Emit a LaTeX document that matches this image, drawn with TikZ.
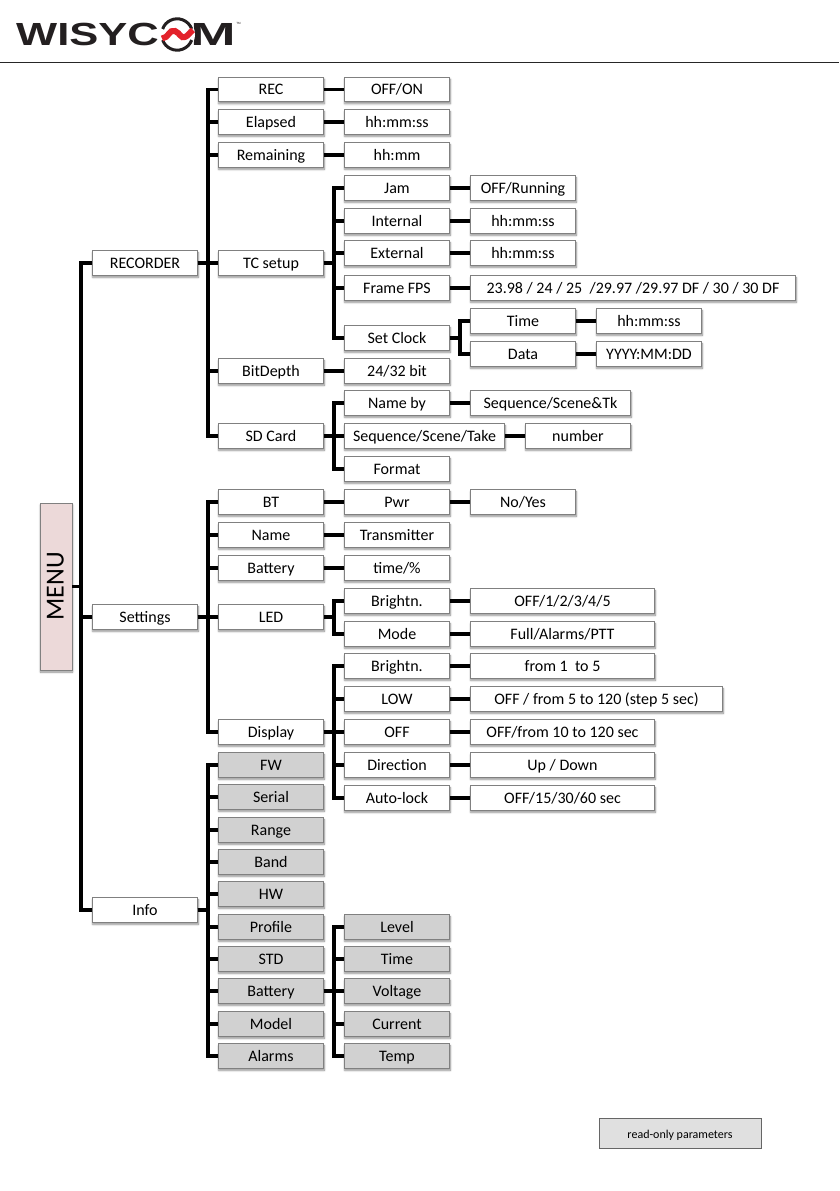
\documentclass[tikz,border=0pt]{standalone}
\usepackage{fontspec}
\setmainfont{Carlito}
\newfontfamily\logofont{Liberation Sans}
\usetikzlibrary{positioning, shadows.blur}
\definecolor{wisyred}{HTML}{E3222B}
\definecolor{logoblack}{HTML}{231F20}

\begin{document}
\begin{tikzpicture}[
  x=1pt, y=-1pt,
  font=\fontsize{16}{18}\selectfont,
  item/.style={draw=black!50, line width=0.8pt, fill=white, minimum width=105.5pt,
    minimum height=24.5pt, inner sep=0pt, outer sep=0pt, align=center, text height=11pt, text depth=1pt,
    blur shadow={shadow xshift=0.5pt, shadow yshift=-2pt, shadow blur radius=2pt,
      shadow blur steps=6, shadow opacity=45}},
  rdonly/.style={item, fill=black!18},
  wire/.style={line width=3.6pt},
]
  \useasboundingbox (0,0) rectangle (839,1191);

  % header
  \node[font=\logofont\bfseries\fontsize{32}{32}\selectfont, xscale=1.36, text=logoblack,
    inner sep=0pt, anchor=center] (logotext) at (87.5,34) {WISYC};
  \node[font=\logofont\bfseries\fontsize{32}{32}\selectfont, xscale=1.7, text=logoblack,
    inner sep=0pt] (logom) at (213,34) {M};
  \node[font=\logofont\fontsize{3}{3}\selectfont, text=logoblack, inner sep=0pt] (logotm) at (238.5,23.5) {TM};
  \fill[white] (177.5,34.5) circle (17.5);
  \draw[logoblack, line width=3pt] (162.6,29) arc[start angle=160, end angle=20, radius=15.5, y radius=-15.5];
  \draw[logoblack, line width=3pt] (162.6,40) arc[start angle=200, end angle=340, radius=15.5, y radius=-15.5];
  \draw[wisyred, line width=6pt] (162,38.5) .. controls (169,38) and (169,29) .. (175,31)
    .. controls (180,33) and (181,39) .. (185,37) .. controls (188,36) and (190,32) .. (193,30);
  \coordinate (ruleL) at (0,62.5);
  \coordinate (ruleR) at (839,62.5);
  \draw[line width=1.5pt, black!85] (ruleL) -- (ruleR);

  % root
  \node[item, fill=red!50!black!15!white, minimum width=167pt, minimum height=32pt, rotate=90,
    text height=15pt, text depth=0pt, font=\fontsize{26}{30}\selectfont] (menu) at (56,586.5) {MENU};

  % first level
  \node[item] (recorder) at (145,263) {RECORDER};
  \node[item] (settings) at (145,617) {Settings};
  \node[item] (info) at (145,910) {Info};

  % recorder
  \node[item] (rec) at (271,89.5) {REC};
  \node[item] (elapsed) at (271,122) {Elapsed};
  \node[item] (remaining) at (271,155) {Remaining};
  \node[item, right=20.5pt of recorder] (tcsetup) {TC setup};
  \node[item] (bitdepth) at (271,371) {BitDepth};
  \node[item] (sdcard) at (271,436) {SD Card};

  \node[item, right=20.5pt of rec] (recval) {OFF/ON};
  \node[item, right=20.5pt of elapsed] (elapsedval) {hh:mm:ss};
  \node[item, right=20.5pt of remaining] (remainingval) {hh:mm};
  \node[item, right=20.5pt of bitdepth] (bitval) {24/32 bit};

  % tc setup
  \node[item] (jam) at (397,188) {Jam};
  \node[item] (internal) at (397,221) {Internal};
  \node[item] (external) at (397,253) {External};
  \node[item] (frame) at (397,288) {Frame FPS};
  \node[item] (clock) at (397,338) {Set Clock};
  \node[item, right=20.5pt of jam] (jamval) {OFF/Running};
  \node[item, right=20.5pt of internal] (internalval) {hh:mm:ss};
  \node[item, right=20.5pt of external] (externalval) {hh:mm:ss};
  \node[item, right=20.5pt of frame, minimum width=325.5pt] (frameval)
    {23.98 / 24 / 25 ~/29.97 /29.97 DF / 30 / 30 DF};
  \node[item] (time) at (523,321) {Time};
  \node[item] (data) at (523,354) {Data};
  \node[item, right=20.5pt of time] (timeval) {hh:mm:ss};
  \node[item, right=20.5pt of data] (dataval) {YYYY:MM:DD};

  % sd card
  \node[item] (nameby) at (397,403) {Name by};
  \node[item, minimum width=160.5pt] (sequence) at (424.5,436) {Sequence/Scene/Take};
  \node[item] (format) at (397,469) {Format};
  \node[item, minimum width=160.5pt] (namebyval) at (550.5,403) {Sequence/Scene\&Tk};
  \node[item, right=20.5pt of sequence] (number) {number};

  % settings
  \node[item] (bt) at (271,502) {BT};
  \node[item] (name) at (271,535) {Name};
  \node[item] (battery) at (271,568) {Battery};
  \node[item, right=20.5pt of settings] (led) {LED};
  \node[item] (display) at (271,732) {Display};
  \node[item, right=20.5pt of bt] (pwr) {Pwr};
  \node[item, right=20.5pt of pwr] (pwrval) {No/Yes};
  \node[item, right=20.5pt of name] (nameval) {Transmitter};
  \node[item, right=20.5pt of battery] (batteryval) {time/\%};

  \node[item] (ledbright) at (397,601) {Brightn.};
  \node[item] (ledmode) at (397,634) {Mode};
  \node[item, minimum width=184.5pt, right=20.5pt of ledbright] (ledbrightval) {OFF/1/2/3/4/5};
  \node[item, minimum width=184.5pt, right=20.5pt of ledmode] (ledmodeval) {Full/Alarms/PTT};

  \node[item] (dispbright) at (397,666) {Brightn.};
  \node[item] (displow) at (397,699) {LOW};
  \node[item, right=20.5pt of display] (dispoff) {OFF};
  \node[item] (dispdir) at (397,765) {Direction};
  \node[item] (displock) at (397,798) {Auto-lock};
  \node[item, minimum width=184.5pt, right=20.5pt of dispbright] (dispbrightval) {from 1 ~to 5};
  \node[item, minimum width=252.5pt, right=20.5pt of displow] (displowval) {OFF / from 5 to 120 (step 5 sec)};
  \node[item, minimum width=184.5pt, right=20.5pt of dispoff] (dispoffval) {OFF/from 10 to 120 sec};
  \node[item, minimum width=184.5pt, right=20.5pt of dispdir] (dispdirval) {Up / Down};
  \node[item, minimum width=184.5pt, right=20.5pt of displock] (displockval) {OFF/15/30/60 sec};

  % info (read only)
  \node[rdonly] (fw) at (271,765) {FW};
  \node[rdonly] (serial) at (271,797) {Serial};
  \node[rdonly] (range) at (271,830) {Range};
  \node[rdonly] (band) at (271,862) {Band};
  \node[rdonly] (hw) at (271,894) {HW};
  \node[rdonly] (profile) at (271,927) {Profile};
  \node[rdonly] (std) at (271,959) {STD};
  \node[rdonly] (infobat) at (271,991) {Battery};
  \node[rdonly] (model) at (271,1024) {Model};
  \node[rdonly] (alarms) at (271,1056) {Alarms};
  \node[rdonly, right=20.5pt of profile] (level) {Level};
  \node[rdonly, right=20.5pt of std] (inftime) {Time};
  \node[rdonly, right=20.5pt of infobat] (voltage) {Voltage};
  \node[rdonly, right=20.5pt of model] (current) {Current};
  \node[rdonly, right=20.5pt of alarms] (temp) {Temp};

  % legend
  \node[draw=black!60, fill=black!12, line width=0.8pt, minimum width=162pt, minimum height=30pt,
    inner sep=0pt, text height=10pt, text depth=0pt, font=\fontsize{12}{14}\selectfont] (legend) at (680,1133) {read-only parameters};

  % connectors
  \foreach \a/\b in {menu/recorder, menu/settings, menu/info}
    \draw[wire] (\a.south) -- ++(9,0) |- (\b.west);
  \foreach \a/\b in {recorder/rec, recorder/elapsed, recorder/remaining, recorder/tcsetup,
      recorder/bitdepth, recorder/sdcard, settings/bt, settings/name, settings/battery,
      settings/led, settings/display, info/fw, info/serial, info/range, info/band, info/hw,
      info/profile, info/std, info/infobat, info/model, info/alarms,
      tcsetup/jam, tcsetup/internal, tcsetup/external, tcsetup/frame, tcsetup/clock,
      sdcard/nameby, sdcard/sequence, sdcard/format, led/ledbright, led/ledmode,
      display/dispbright, display/displow, display/dispoff, display/dispdir, display/displock,
      infobat/level, infobat/inftime, infobat/voltage, infobat/current, infobat/temp,
      clock/time, clock/data}
    \draw[wire] (\a.east) -- ++(10,0) |- (\b.west);
  \foreach \a/\b in {rec/recval, elapsed/elapsedval, remaining/remainingval, bitdepth/bitval,
      jam/jamval, internal/internalval, external/externalval, frame/frameval, time/timeval,
      data/dataval, nameby/namebyval, sequence/number, bt/pwr, pwr/pwrval, name/nameval,
      battery/batteryval, ledbright/ledbrightval, ledmode/ledmodeval, dispbright/dispbrightval,
      displow/displowval, dispoff/dispoffval, dispdir/dispdirval, displock/displockval}
    \draw[wire] (\a) -- (\b);
\end{tikzpicture}
\end{document}
